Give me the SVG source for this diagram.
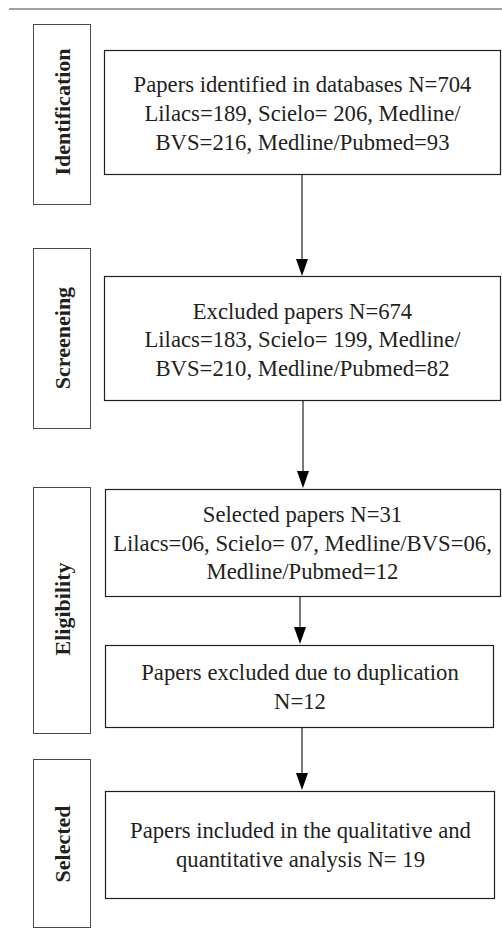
<svg xmlns="http://www.w3.org/2000/svg" width="502" height="951" viewBox="0 0 502 951">
<defs>
<style>
.bg{fill:#ffffff}
.side{fill:none;stroke:#4a4a4a;stroke-width:1}
.box{fill:#ffffff;stroke:#231f20;stroke-width:1.2}
.t{font-family:"Liberation Serif","Times New Roman",serif;font-size:22.7px;fill:#231f20;text-anchor:middle}
.lab{font-family:"Liberation Serif","Times New Roman",serif;font-size:22px;font-weight:bold;fill:#231f20;text-anchor:middle}
.conn{stroke:#231f20;stroke-width:1.2;fill:none}
.head{fill:#000000}
</style>
</defs>
<rect class="bg" x="0" y="0" width="502" height="951"/>
<line x1="9" y1="9" x2="502" y2="9" stroke="#444" stroke-width="1"/>

<g id="stage-identification">
<rect class="side" x="33.5" y="24.5" width="57" height="180"/>
<text class="lab" transform="translate(70,112) rotate(-90)">Identification</text>
</g>
<g id="stage-screening">
<rect class="side" x="33.5" y="248.5" width="57" height="180"/>
<text class="lab" transform="translate(70,338) rotate(-90)">Screeneing</text>
</g>
<g id="stage-eligibility">
<rect class="side" x="33.5" y="487.5" width="57" height="246"/>
<text class="lab" transform="translate(70,609) rotate(-90)">Eligibility</text>
</g>
<g id="stage-selected">
<rect class="side" x="33.5" y="759.5" width="57" height="168"/>
<text class="lab" transform="translate(70,844) rotate(-90)">Selected</text>
</g>

<g id="connectors">
<line class="conn" x1="302" y1="174" x2="302" y2="260"/>
<path class="head" d="M296,259 L308,259 L302,276 Z"/>
<line class="conn" x1="303" y1="400" x2="303" y2="472"/>
<path class="head" d="M297,471 L309,471 L303,488 Z"/>
<line class="conn" x1="300" y1="596" x2="300" y2="628"/>
<path class="head" d="M294,627 L306,627 L300,644 Z"/>
<line class="conn" x1="302" y1="727" x2="302" y2="774"/>
<path class="head" d="M296,773 L308,773 L302,790 Z"/>
</g>

<g id="identified">
<rect class="box" x="104.5" y="50.5" width="396" height="124"/>
<text class="t" x="302.5" y="92">Papers identified in databases N=704</text>
<text class="t" x="302.5" y="121">Lilacs=189, Scielo= 206, Medline/</text>
<text class="t" x="302.5" y="150">BVS=216, Medline/Pubmed=93</text>
</g>
<g id="excluded">
<rect class="box" x="104.5" y="276.5" width="396" height="124"/>
<text class="t" x="302.5" y="319">Excluded papers N=674</text>
<text class="t" x="302.5" y="347">Lilacs=183, Scielo= 199, Medline/</text>
<text class="t" x="302.5" y="376">BVS=210, Medline/Pubmed=82</text>
</g>
<g id="selected-papers">
<rect class="box" x="105.5" y="489.5" width="395" height="107"/>
<text class="t" x="302.5" y="522">Selected papers N=31</text>
<text class="t" x="302.5" y="551">Lilacs=06, Scielo= 07, Medline/BVS=06,</text>
<text class="t" x="302.5" y="579">Medline/Pubmed=12</text>
</g>
<g id="duplicates">
<rect class="box" x="105.5" y="645.5" width="388" height="82"/>
<text class="t" x="300" y="680">Papers excluded due to duplication</text>
<text class="t" x="300" y="709">N=12</text>
</g>
<g id="included">
<rect class="box" x="105.5" y="791.5" width="389" height="107"/>
<text class="t" x="300.5" y="838">Papers included in the qualitative and</text>
<text class="t" x="300.5" y="867">quantitative analysis N= 19</text>
</g>
</svg>
